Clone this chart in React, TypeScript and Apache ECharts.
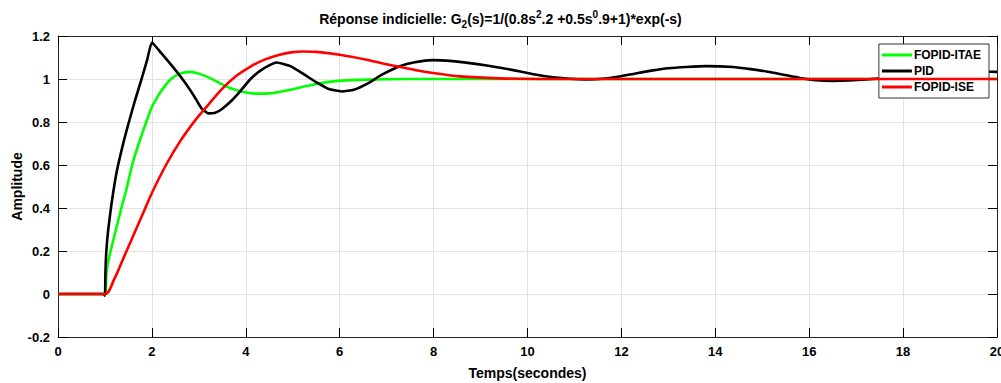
import React, { useEffect, useRef } from "react";
import * as echarts from "echarts";

const xTicks = { min: 0, max: 20, interval: 2 };
const yTicks = { min: -0.2, max: 1.2, interval: 0.2 };

const seriesNames = ["FOPID-ITAE", "PID", "FOPID-ISE"];

const tITAE = [0, 1.0, 1.03, 1.06, 1.12, 1.2, 1.35, 1.45, 1.58, 1.72, 1.88, 2.0, 2.1, 2.25, 2.41, 2.6, 2.81, 3.0, 3.23, 3.45, 3.66, 3.95, 4.23, 4.5, 4.94, 5.4, 5.86, 6.57, 7.5, 10, 14, 20];
const vITAE = [0, 0, 0.09, 0.14, 0.2, 0.27, 0.4, 0.48, 0.6, 0.7, 0.8, 0.87, 0.91, 0.96, 1.0, 1.025, 1.033, 1.025, 1.005, 0.98, 0.958, 0.94, 0.932, 0.933, 0.95, 0.972, 0.989, 0.997, 1.0, 1.0, 1.0, 1.0];

const tPID = [0, 0.97, 1.0, 1.01, 1.03, 1.07, 1.14, 1.21, 1.28, 1.4, 1.51, 1.64, 1.78, 1.9, 2.0, 2.2, 2.45, 2.7, 2.9, 3.05, 3.2, 3.35, 3.5, 3.7, 3.87, 4.1, 4.35, 4.65, 4.95, 5.25, 5.5, 5.75, 6.04, 6.3, 6.6, 6.9, 7.28, 7.6, 7.98, 8.4, 8.77, 9.1, 9.48, 9.85, 10.19, 10.55, 10.9, 11.25, 11.6, 11.96, 12.3, 12.67, 13.0, 13.38, 13.8, 14.38, 14.75, 15.09, 15.45, 15.8, 16.15, 16.5, 16.85, 17.2, 17.6, 18.0, 18.5, 19.0, 19.5, 19.85, 20];
const vPID = [0, 0, -0.008, 0.1, 0.2, 0.3, 0.42, 0.52, 0.6, 0.71, 0.8, 0.9, 1.0, 1.09, 1.17, 1.12, 1.055, 0.985, 0.92, 0.865, 0.84, 0.843, 0.862, 0.9, 0.94, 1.0, 1.045, 1.077, 1.06, 1.02, 0.985, 0.955, 0.942, 0.95, 0.98, 1.02, 1.059, 1.078, 1.088, 1.083, 1.074, 1.064, 1.05, 1.035, 1.02, 1.008, 1.001, 0.998, 1.001, 1.012, 1.026, 1.04, 1.05, 1.056, 1.06, 1.056, 1.046, 1.035, 1.02, 1.005, 0.994, 0.991, 0.993, 0.998, 1.004, 1.01, 1.016, 1.022, 1.03, 1.034, 1.033];

const tISE = [0, 1.0, 1.2, 1.4, 1.6, 1.8, 2.0, 2.3, 2.6, 2.93, 3.2, 3.5, 3.8, 4.1, 4.4, 4.7, 5.0, 5.2, 5.5, 6.0, 6.57, 6.92, 7.28, 7.6, 7.99, 8.56, 9.41, 10.5, 14, 20];
const vISE = [0, 0, 0.07, 0.17, 0.27, 0.37, 0.47, 0.6, 0.71, 0.81, 0.88, 0.955, 1.015, 1.058, 1.09, 1.112, 1.125, 1.128, 1.126, 1.113, 1.09, 1.072, 1.056, 1.042, 1.028, 1.012, 1.003, 1.0, 1.0, 1.0];

const colors = ["#00ff00", "#000000", "#ff0000"];

const zip = (t: number[], v: number[]) => t.map((x, i) => [x, v[i]]);

const FONT = "'Liberation Sans', Arial, sans-serif";

export default function App() {
  const ref = useRef<HTMLDivElement>(null);
  useEffect(() => {
    if (!ref.current) return;
    const chart = echarts.init(ref.current, undefined, { renderer: "svg" });
    const axisLineColor = "#262626";
    const commonX = { type: "value" as const, min: xTicks.min, max: xTicks.max, interval: xTicks.interval };
    const commonY = { type: "value" as const, min: yTicks.min, max: yTicks.max, interval: yTicks.interval };
    chart.setOption({
      animation: false,
      backgroundColor: "#ffffff",
      textStyle: { fontFamily: FONT },
      title: {
        left: "center",
        top: 3,
        text: "{b|Réponse indicielle: G}{sub|2}{b|(s)=1/(0.8s}{sup|2}{b|.2 +0.5s}{sup|0}{b|.9+1)*exp(-s)}",
        textStyle: {
          rich: {
            b: { fontSize: 14, fontWeight: "bold", color: "#000", fontFamily: FONT, lineHeight: 22 },
            sub: { fontSize: 10, fontWeight: "bold", color: "#000", fontFamily: FONT, padding: [10, 0, 0, 0] },
            sup: { fontSize: 10, fontWeight: "bold", color: "#000", fontFamily: FONT, padding: [0, 0, 10, 0] },
          },
        },
      },
      legend: {
        orient: "vertical",
        right: 12,
        top: 44,
        data: seriesNames,
        icon: "rect",
        itemWidth: 30,
        itemHeight: 3,
        itemGap: 4,
        padding: [5, 8, 5, 3],
        backgroundColor: "#ffffff",
        borderColor: "#333333",
        borderWidth: 1,
        borderRadius: 0,
        textStyle: { fontSize: 12, fontWeight: "bold", color: "#000", fontFamily: FONT, padding: [0, 0, 0, -3] },
      },
      grid: { left: 58, right: 4, top: 36, bottom: 46, containLabel: false, outerBoundsMode: "none" },
      xAxis: [
        {
          ...commonX,
          position: "bottom",
          name: "Temps(secondes)",
          nameLocation: "middle",
          nameGap: 29,
          nameMoveOverlap: false,
          nameTextStyle: { fontSize: 14, fontWeight: "bold", color: "#000", fontFamily: FONT },
          axisLine: { show: true, onZero: false, lineStyle: { color: axisLineColor, width: 1 } },
          axisTick: { show: true, inside: true, length: 9, lineStyle: { color: "#000" } },
          axisLabel: { fontSize: 13, fontWeight: "bold", color: "#000", margin: 8, fontFamily: FONT },
          splitLine: { show: true, lineStyle: { color: "#e3e3e3", width: 1 } },
        },
        {
          ...commonX,
          position: "top",
          axisLine: { show: true, onZero: false, lineStyle: { color: axisLineColor, width: 1 } },
          axisTick: { show: true, inside: true, length: 9, lineStyle: { color: "#000" } },
          axisLabel: { show: false },
          splitLine: { show: false },
        },
      ],
      yAxis: [
        {
          ...commonY,
          position: "left",
          name: "Amplitude",
          nameLocation: "middle",
          nameGap: 34,
          nameMoveOverlap: false,
          nameRotate: 90,
          nameTextStyle: { fontSize: 14, fontWeight: "bold", color: "#000", fontFamily: FONT },
          axisLine: { show: true, onZero: false, lineStyle: { color: axisLineColor, width: 1 } },
          axisTick: { show: true, inside: true, length: 9, lineStyle: { color: "#000" } },
          axisLabel: { fontSize: 13, fontWeight: "bold", color: "#000", margin: 8, fontFamily: FONT },
          splitLine: { show: true, lineStyle: { color: "#e3e3e3", width: 1 } },
        },
        {
          ...commonY,
          position: "right",
          axisLine: { show: true, onZero: false, lineStyle: { color: axisLineColor, width: 1 } },
          axisTick: { show: true, inside: true, length: 9, lineStyle: { color: "#000" } },
          axisLabel: { show: false },
          splitLine: { show: false },
        },
      ],
      series: [
        { name: seriesNames[0], data: zip(tITAE, vITAE), color: colors[0] },
        { name: seriesNames[1], data: zip(tPID, vPID), color: colors[1] },
        { name: seriesNames[2], data: zip(tISE, vISE), color: colors[2] },
      ].map((s, i) => ({
        ...s,
        type: "line",
        xAxisIndex: 0,
        yAxisIndex: 0,
        showSymbol: false,
        symbol: "none",
        smooth: i === 1 ? 0.15 : 0.3,
        lineStyle: { width: 2.6, color: s.color },
        itemStyle: { color: s.color },
        z: i === 2 ? 4 : i === 1 ? 3 : 2,
      })),
    });
    return () => chart.dispose();
  }, []);
  return <div ref={ref} style={{ position: "fixed", left: 0, top: 0, width: 1001, height: 383 }} />;
}
